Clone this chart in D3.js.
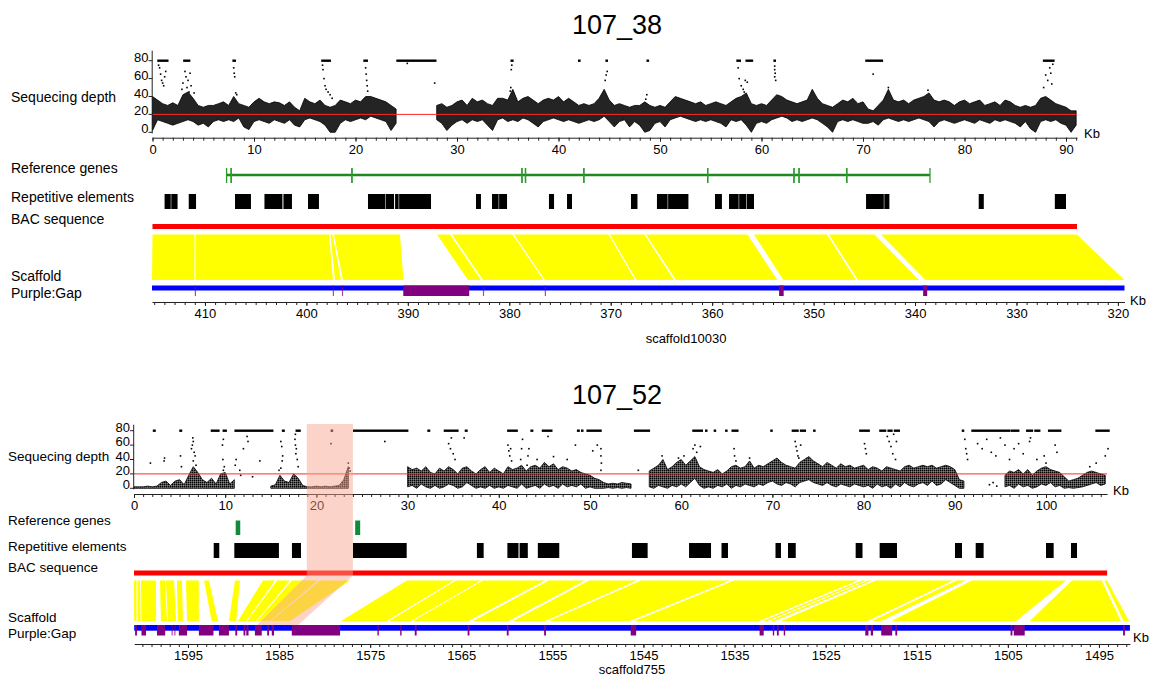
<!DOCTYPE html>
<html>
<head>
<meta charset="utf-8">
<script src="https://cdn.jsdelivr.net/npm/d3@7"></script>
<style>
body { margin: 0; background: #fff; }
text { font-family: "Liberation Sans", Arial, sans-serif; fill: #000; }
.tick text { font-family: "Liberation Sans", Arial, sans-serif; font-size: 13px; }
.domain, .tick line { stroke: #222; }
</style>
</head>
<body>
<svg id="chart" width="1158" height="677"></svg>
<script>
// ---------- shared
var depthStep = 0.5
var depthTicks = [0, 20, 40, 60, 80]
var rowLabels = ["Sequecing depth", "Reference genes", "Repetitive elements", "BAC sequence", "Scaffold", "Purple:Gap"]

// ---------- 107_38
var bacLen38 = 91.08
var scafRange38 = [415.22, 319.35]
var bacTicks38 = [0, 10, 20, 30, 40, 50, 60, 70, 80, 90]
var scafTicks38 = [410, 400, 390, 380, 370, 360, 350, 340, 330, 320]
var lo38 = [2,14,12,10,8,10,12,14,12,8, 10,6,12,14,12,14,12,16,6,3, 12,14,12,10,14,12,10,14,8,6,
  14,16,14,12,8,0,0,10,14,12, 14,16,14,18,16,14,12,2,10,null, null,null,null,null,null,null,14,10,2,8,
  12,14,10,14,12,14,8,2,14,16, 12,14,12,16,14,10,6,12,14,16, 14,12,14,12,10,12,14,12,14,18,
  12,6,12,14,6,12,8,0,2,10, 12,6,14,16,18,16,14,12,14,12, 14,12,10,6,14,12,14,8,0,10,
  12,10,14,16,18,16,12,14,12,14, 16,14,10,6,0,12,14,12,14,12, 10,10,12,8,14,16,14,12,14,12,
  14,16,14,12,6,12,14,12,10,12, 14,12,10,14,12,10,14,12,14,12, 10,6,12,4,0,12,14,12,14,10, 8,0,8]
var hi38 = [40,36,32,30,33,30,42,45,38,30, 28,30,30,32,34,30,40,32,30,28, 34,38,34,32,34,33,30,34,28,24,
  38,34,32,36,30,28,30,36,34,32, 36,34,40,40,38,36,34,30,26,null, null,null,null,null,null,null,30,32,28,30,
  34,36,30,38,34,36,32,30,38,38, 36,48,34,38,40,36,32,36,38,36, 40,34,38,34,30,32,30,32,38,48,
  36,30,32,30,28,30,30,34,30,28, 30,28,34,40,38,36,34,32,34,30, 32,34,32,30,34,38,40,44,32,30,
  32,30,36,42,40,36,34,32,34,36, 48,38,32,30,28,32,36,34,38,32, 34,26,24,30,36,48,36,34,36,32,
  36,38,40,44,36,34,36,34,30,34, 36,32,34,36,30,32,34,30,36,34, 30,28,30,28,30,38,40,36,32,30, 28,24,24]
// depth >= 80 drawn on the top line
var sat38 = [[0.55,1.5],[3.1,3.65],[7.95,8.15],[16.7,17.5],[20.85,21.15],[24.1,27.9],[35.35,35.5],
  [42.0,42.1],[44.7,44.8],[48.75,48.85],[57.6,57.9],[58.5,59.1],[61.25,61.35],[70.3,71.9],[87.8,88.8]]
var spikes38 = [[0.6,75],[0.7,72],[0.8,65],[0.9,58],[1.0,55],[1.1,52],[1.2,62],[1.3,68],
  [2.9,48],[3.0,55],[3.2,68],[3.3,62],[3.4,50],[3.5,58],[3.6,45],[3.7,66],[3.8,52],[4.1,44],
  [8.0,72],[8.05,66],[8.1,62],[8.2,44],[8.3,42],
  [16.75,75],[16.8,70],[16.9,60],[17.0,52],[17.1,48],[17.3,45],[17.5,42],[17.7,38],
  [21.0,72],[21.05,65],[21.1,58],[21.15,52],[21.2,46],[25.1,77],[27.8,55],
  [35.25,46],[35.3,50],[35.35,70],[35.4,75],[44.6,58],[44.7,64],[44.8,68],[48.6,37],[48.7,42],
  [57.7,72],[57.8,60],[58.0,52],[58.2,48],[58.3,45],[58.4,58],[58.6,56],
  [61.3,74],[61.3,70],[61.35,66],[61.3,62],[61.4,58],[71.0,65],[72.5,50],[76.4,47],
  [87.8,50],[88.0,64],[88.2,58],[88.4,72],[88.5,66],[88.6,54],[88.7,76]]
var genes38 = [[7.3,7.75],[7.75,19.65],[19.65,36.4],[36.4,36.75],[36.75,42.5],[42.5,54.7],
  [54.7,63.2],[63.2,63.7],[63.7,68.4],[68.4,76.6]]
var rep38 = [[1.19,1.8],[1.85,2.47],[3.57,4.29],[8.13,9.7],[11.03,12.8],[12.9,13.74],[15.32,16.4],
  [21.23,22.95],[23.0,23.8],[23.9,24.25],[24.3,27.44],[31.87,32.36],[33.45,34.1],[34.15,34.93],
  [39.06,39.56],[40.84,41.33],[47.14,47.78],[49.7,50.75],[50.8,52.8],[55.42,56.1],[56.8,57.75],
  [57.8,58.5],[58.55,59.26],[70.3,72.05],[72.1,72.6],[81.4,81.9],[88.9,90.0]]
// [bacStart, bacEnd, scafStart, scafEnd]
var syn38 = [[0,4.14,415.22,411.04],[4.24,17.39,410.94,397.38],[17.54,17.73,397.18,396.59],
  [17.88,24.38,396.39,390.43],[28.03,29.31,384.07,382.79],[29.51,35.47,382.59,376.63],
  [35.62,44.93,376.48,367.61],[45.07,48.47,367.46,363.77],[48.62,58.62,363.57,353.56],
  [59.26,66.45,352.97,345.82],[66.65,71.13,345.62,339.61],[71.77,91.08,338.97,319.35]]
var gaps38 = [[390.45,383.95],[353.4,352.95],[339.2,338.8],[411.0,410.95],[397.4,397.35],
  [396.5,396.45],[382.6,382.55],[376.5,376.45]]

// ---------- 107_52
var bacLen52 = 106.7
var scafRange52 = [1600.9, 1491.6]
var bacTicks52 = [0, 10, 20, 30, 40, 50, 60, 70, 80, 90, 100]
var scafTicks52 = [1595, 1585, 1575, 1565, 1555, 1545, 1535, 1525, 1515, 1505, 1495]
var lo52 = [0,0,0,0,0,0,0,0,0,0, 0,0,0,0,0,0,0,0,0,0, 0,0,0,null,null,null,null,null,null,null,
  0,0,0,0,0,0,0,0,0,0, 0,0,0,0,0,0,0,0,null,null, null,null,null,null,null,null,null,null,null,null,
  2,4,0,6,2,0,4,0,2,6, 4,0,2,8,4,0,2,0,4,0, 2,0,4,2,0,6,0,2,4,0, 6,2,4,0,6,2,4,2,6,0,
  2,0,0,0,1,0,1,0,1,0, null,null,null,2,0,4,2,0,4,2, 6,2,8,14,4,0,2,0,4,2, 6,0,4,2,6,4,2,6,4,8,
  10,6,4,8,6,2,8,10,12,8, 6,4,8,4,2,6,4,2,6,4, 2,4,0,6,2,4,0,6,2,8, 4,2,6,8,4,10,4,6,12,8,
  4,0,0,null,null,null,null,null,null,null, null,2,4,0,6,2,4,0,2,6, 4,8,2,4,0,1,0,1,2,4, 6,8,4,6]
var hi52 = [2,2,2,3,2,3,8,10,4,10, 12,5,18,30,22,12,8,14,6,20, 22,6,12,null,null,null,null,null,null,null,
  3,5,18,10,8,20,14,4,2,2, 3,2,3,2,3,4,12,30,null,null, null,null,null,null,null,null,null,null,null,null,
  30,26,28,24,30,22,20,28,24,30, 26,20,28,30,24,20,26,30,22,28, 24,20,30,26,28,32,24,30,32,28,
  36,30,34,26,30,28,24,26,22,20, 18,14,12,8,6,7,6,8,7,6, null,null,null,24,28,32,40,26,30,36,
  40,32,38,44,30,26,24,22,26,20, 24,30,32,28,30,38,28,32,30,34, 38,42,36,32,30,28,36,40,44,38,
  34,30,36,32,28,34,30,32,28,30, 32,26,30,28,24,30,28,26,24,30, 32,28,30,32,30,32,28,30,32,30,
  26,12,10,null,null,null,null,null,null,null, null,18,24,22,26,20,26,18,24,28, 30,26,24,22,16,10,12,14,18,22, 24,22,20,18]
var sat52 = [[2.15,2.3],[5.05,5.2],[8.5,9.3],[9.8,10.1],[11.1,15.2],[16.3,16.45],[17.8,18.2],[21.65,21.75],
  [24.1,30.0],[32.25,32.4],[34.05,35.5],[36.35,36.5],[41.0,42.0],[43.55,43.7],[44.8,45.8],[48.65,48.8],
  [49.1,49.2],[49.7,51.2],[54.9,56.5],[61.3,62.3],[62.7,62.8],[63.65,63.75],[64.9,65.0],[65.6,66.2],
  [69.85,69.95],[72.2,72.8],[73.1,73.6],[74.55,74.65],[79.6,80.6],[81.8,82.4],[82.7,83.1],[83.4,83.9],
  [90.85,90.95],[91.9,96.0],[96.2,97.0],[97.9,98.5],[98.8,99.3],[100.3,101.6],[105.5,106.9]]
var spikes52 = [[1.8,35],[3.3,38],[3.35,42],[5.1,45],[5.2,30],[6.3,55],[6.4,60],[6.5,65],[6.45,70],[6.6,50],
  [6.7,45],[6.5,38],[6.8,32],[9.7,60],[9.8,68],[9.75,40],[9.9,30],[9.8,25],[11.1,32],[11.2,40],[11.6,25],
  [11.7,18],[12.0,55],[12.4,72],[12.5,65],[13.8,38],[13.0,16],[16.1,65],[16.2,58],[16.3,45],[16.25,38],
  [16.1,28],[17.7,75],[17.65,68],[17.7,60],[17.8,55],[17.75,48],[17.9,40],[18.0,30],[15.9,25],[21.6,62],
  [23.5,35],[23.6,28],[23.7,24],[27.5,65],[34.5,62],[34.7,55],[34.8,70],[35.0,48],[35.2,40],[36.2,70],
  [41.0,60],[41.1,52],[41.2,45],[41.4,38],[41.3,55],[42.4,40],[42.5,55],[42.6,68],[43.1,32],[43.2,45],
  [43.3,55],[44.2,40],[45.4,72],[46.0,44],[47.5,40],[48.4,60],[50.3,52],[50.8,60],[51.2,55],[51.2,45],
  [51.25,35],[51.2,25],[55.3,25],[57.9,45],[59.7,42],[60.3,45],[61.3,55],[61.5,60],[61.7,50],[62.1,58],
  [65.8,55],[65.85,45],[66.0,38],[67.5,42],[72.5,65],[72.6,58],[72.7,52],[72.8,45],[72.9,42],[73.1,60],
  [80.1,62],[80.2,55],[80.3,48],[82.6,72],[82.8,65],[83.0,58],[83.2,48],[83.3,75],[83.5,40],[83.6,65],
  [91.1,68],[91.2,55],[91.3,48],[91.4,40],[92.5,62],[93.0,55],[93.5,68],[94.0,50],[94.5,45],[95.0,70],
  [95.5,60],[96.0,40],[96.5,55],[97.0,62],[97.5,48],[98.2,65],[98.3,70],[99.0,40],[99.8,45],[100.0,35],
  [101.0,60],[101.2,50],[104.8,30],[105.5,35],[106.5,45],[106.8,55],[93.8,5],[94.2,8],[94.6,3]]
var genes52 = [[11.15,11.65],[24.25,24.8]]
var rep52 = [[8.74,9.35],[11.0,15.89],[17.32,18.31],[24.01,29.9],[37.6,38.34],[40.94,42.16],[42.28,43.18],
  [44.28,46.63],[54.6,56.32],[60.86,63.27],[64.42,65.13],[70.34,70.94],[71.71,72.56],[79.13,79.88],
  [81.76,83.66],[90.02,90.79],[92.29,93.16],[100.0,100.84],[102.74,103.4]]
var syn52 = [[0,0.27,1600.9,1600.65],[0.38,0.66,1600.5,1600.2],[0.77,2.41,1600.1,1598.5],
  [2.85,3.4,1597.96,1597.3],[3.5,4.39,1597.2,1596.3],[4.71,5.26,1596.1,1595.55],[5.7,7.1,1595.1,1593.8],
  [7.68,8.22,1592.4,1591.7],[11.07,11.62,1590.5,1589.7],[14.14,15.46,1589.5,1588.6],
  [15.68,17.1,1588.5,1587.5],[17.32,20.18,1587.4,1586.0],[20.4,23.7,1585.9,1583.8],
  [29.93,35.09,1578.2,1573.2],[35.3,38.05,1572.9,1570.5],[38.27,45.07,1570.3,1564.2],
  [45.5,49.45,1563.7,1559.8],[49.9,55.15,1559.3,1555.8],[55.6,65.35,1555.4,1546.5],
  [65.8,79.4,1546.0,1532.3],[79.8,80.26,1531.9,1531.4],[80.5,80.9,1531.1,1530.6],
  [81.36,89.8,1529.9,1520.4],[90.2,91.2,1519.9,1518.9],[91.9,102.2,1517.8,1504.1],
  [102.85,106.1,1502.6,1492.6],[106.4,106.7,1492.3,1491.7]]
var gaps52 = [[1600.8,1600.6],[1600.1,1599.6],[1598.4,1597.5],[1596.8,1596.7],[1596.5,1596.4],
  [1596.0,1595.1],[1593.8,1592.2],[1591.6,1590.5],[1589.8,1589.6],[1588.9,1588.7],[1588.6,1588.35],
  [1587.65,1586.9],[1586.3,1586.1],[1585.8,1585.55],[1583.6,1578.3],[1574.2,1574.05],[1571.7,1571.55],
  [1570.1,1569.9],[1564.3,1564.1],[1560.0,1559.8],[1555.9,1555.7],[1546.4,1545.8],[1532.25,1531.8],
  [1530.8,1530.65],[1530.35,1530.15],[1529.6,1529.45],[1520.65,1520.3],[1520.05,1519.8],
  [1518.9,1517.7],[1517.35,1517.15],[1504.7,1504.5],[1504.35,1503.15],[1492.35,1492.15]]
var hlBac52 = [18.95, 24.0]
var hlScaf52 = [1587.4, 1582.9]


var svg = d3.select("#chart")

// stipple fill so the sparse depth cloud reads like dots
var defs = svg.append("defs")
defs.append("pattern")
    .attr("id", "dots")
    .attr("width", 2).attr("height", 2)
    .attr("patternUnits", "userSpaceOnUse")
  .append("rect")
    .attr("width", 1.7).attr("height", 1.7)
    .attr("fill", "#000")

function drawPanel(p) {

	var g = svg.append("g")

	var bx = d3.scaleLinear()
		.domain([0, p.bacLen])
		.range([p.x0, p.x0 + p.bacLen * p.pxKb])

	var sx = d3.scaleLinear()
		.domain(p.scafRange)
		.range([p.sx0, p.sx0 + (p.scafRange[0] - p.scafRange[1]) * p.pxKb2])

	var y = d3.scaleLinear()
		.domain([0, 80])
		.range([p.y0, p.y80])

	g.append("text")
		.attr("x", 617)
		.attr("y", p.titleY)
		.attr("text-anchor", "middle")
		.style("font-size", "27px")
		.text(p.title)

	g.selectAll(".rowLabel")
		.data(rowLabels)
		.enter().append("text")
		.attr("class", "rowLabel")
		.attr("x", p.labelX)
		.attr("y", (d, i) => p.labelYs[i])
		.style("font-size", p.fs + "px")
		.text(d => d)

	// sequencing depth
	var bins = p.lo.map((v, i) => ({ kb: i * depthStep, lo: v, hi: p.hi[i] }))

	var area = d3.area()
		.defined(d => d.lo != null)
		.x(d => bx(Math.min(d.kb, p.bacLen)))
		.y0(d => y(d.lo))
		.y1(d => y(d.hi))

	g.append("path")
		.datum(bins)
		.attr("d", area)
		.attr("fill", p.cloudFill)
		.attr("fill-opacity", p.cloudOpacity)
		.attr("stroke", "#000")
		.attr("stroke-width", 0.8)
		.attr("stroke-opacity", p.cloudStroke)

	g.selectAll(".sat")
		.data(p.sat)
		.enter().append("rect")
		.attr("x", d => bx(d[0]) - 0.8)
		.attr("width", d => bx(d[1]) - bx(d[0]) + 1.6)
		.attr("y", y(80) - 1.2)
		.attr("height", 2.4)
		.attr("fill", "#000")

	g.selectAll(".spike")
		.data(p.spikes)
		.enter().append("rect")
		.attr("x", d => bx(d[0]) - 0.8)
		.attr("y", d => y(d[1]) - 0.8)
		.attr("width", 1.6)
		.attr("height", 1.6)
		.attr("fill", "#000")

	g.append("line")
		.attr("x1", bx(0)).attr("x2", bx(p.bacLen))
		.attr("y1", y(20)).attr("y2", y(20))
		.attr("stroke", "#ff2a2a")
		.attr("stroke-width", 1)

	// depth y axis
	g.append("line")
		.attr("x1", p.x0 - 0.3).attr("x2", p.x0 - 0.3)
		.attr("y1", y(80) - p.yAxisExtra).attr("y2", y(0) + 1)
		.attr("stroke", "#222")

	var yt = g.selectAll(".ytick")
		.data(depthTicks)
		.enter().append("g")

	yt.append("line")
		.attr("x1", p.x0 - 4).attr("x2", p.x0)
		.attr("y1", d => y(d)).attr("y2", d => y(d))
		.attr("stroke", "#222")

	yt.append("text")
		.attr("x", p.x0 - 4)
		.attr("y", d => y(d) + 1)
		.attr("text-anchor", "end")
		.style("font-size", "13px")
		.text(d => d)

	// depth x axis
	var ax = g.append("g").attr("transform", "translate(0," + p.axisY + ")")
	ax.call(d3.axisBottom(bx).tickValues(d3.range(0, p.bacLen, 1)).tickSize(3).tickSizeOuter(0).tickFormat(""))
	ax.append("g")
		.call(d3.axisBottom(bx).tickValues(p.bacTicks).tickSize(4).tickSizeOuter(0).tickFormat(d3.format("d")))
		.call(a => a.select(".domain").remove())

	g.append("text")
		.attr("x", p.kbDepth[0]).attr("y", p.kbDepth[1])
		.style("font-size", "13px")
		.text("Kb")

	// reference genes
	if (p.geneStyle == "line") {
		g.selectAll(".gene")
			.data(p.genes)
			.enter().append("line")
			.attr("x1", d => bx(d[0])).attr("x2", d => bx(d[1]))
			.attr("y1", p.geneY[0] + 7).attr("y2", p.geneY[0] + 7)
			.attr("stroke", "#1f8a1f")
			.attr("stroke-width", 2.6)

		var bounds = []
		p.genes.forEach(d => { bounds.push(d[0]); bounds.push(d[1]) })
		g.selectAll(".geneTick")
			.data(bounds)
			.enter().append("line")
			.attr("x1", d => bx(d)).attr("x2", d => bx(d))
			.attr("y1", p.geneY[0]).attr("y2", p.geneY[1])
			.attr("stroke", "#2e9a2e")
			.attr("stroke-width", 1.3)
	}
	else {
		g.selectAll(".gene")
			.data(p.genes)
			.enter().append("rect")
			.attr("x", d => bx(d[0]))
			.attr("width", d => bx(d[1]) - bx(d[0]))
			.attr("y", p.geneY[0])
			.attr("height", p.geneY[1] - p.geneY[0])
			.attr("fill", "#13893a")
	}

	// repetitive elements
	g.selectAll(".rep")
		.data(p.rep)
		.enter().append("rect")
		.attr("x", d => bx(d[0]))
		.attr("width", d => bx(d[1]) - bx(d[0]))
		.attr("y", p.repY[0])
		.attr("height", p.repY[1] - p.repY[0])
		.attr("fill", "#000")

	// BAC bar
	g.append("rect")
		.attr("x", bx(0)).attr("width", bx(p.bacLen) - bx(0))
		.attr("y", p.bacY[0]).attr("height", p.bacY[1] - p.bacY[0])
		.attr("fill", "#ff0000")

	// synteny
	g.selectAll(".syn")
		.data(p.syn)
		.enter().append("polygon")
		.attr("points", d => [
			[bx(d[0]), p.synY[0]], [bx(d[1]), p.synY[0]],
			[sx(d[3]), p.synY[1]], [sx(d[2]), p.synY[1]]
		].join(" "))
		.attr("fill", "#ffff00")

	// scaffold
	g.append("rect")
		.attr("x", sx(p.scafRange[0])).attr("width", sx(p.scafRange[1]) - sx(p.scafRange[0]))
		.attr("y", p.scafY[0]).attr("height", p.scafY[1] - p.scafY[0])
		.attr("fill", "#0000ff")

	g.selectAll(".gap")
		.data(p.gaps)
		.enter().append("rect")
		.attr("x", d => Math.min(sx(d[0]), sx(d[1])))
		.attr("width", d => Math.max(Math.abs(sx(d[1]) - sx(d[0])), 1.2))
		.attr("y", p.scafY[0])
		.attr("height", p.gapBottom - p.scafY[0])
		.attr("fill", "#800080")
		.attr("opacity", d => Math.abs(sx(d[1]) - sx(d[0])) < 1 ? 0.7 : 1)

	var sax = g.append("g").attr("transform", "translate(0," + p.scafAxisY + ")")
	sax.call(d3.axisBottom(sx).tickValues(d3.range(Math.ceil(p.scafRange[1]), p.scafRange[0], 1)).tickSize(3).tickSizeOuter(0).tickFormat(""))
	sax.append("g")
		.call(d3.axisBottom(sx).tickValues(p.scafTicks).tickSize(4).tickSizeOuter(0).tickFormat(d3.format("d")))
		.call(a => a.select(".domain").remove())

	g.append("text")
		.attr("x", p.kbScaf[0]).attr("y", p.kbScaf[1])
		.style("font-size", "13px")
		.text("Kb")

	g.append("text")
		.attr("x", p.nameX).attr("y", p.nameY)
		.attr("text-anchor", "middle")
		.style("font-size", "13px")
		.text(p.scafName)

	// highlighted region
	if (p.hlBac) {
		g.append("polygon")
			.attr("points", [
				[bx(p.hlBac[0]), p.hlTop], [bx(p.hlBac[1]), p.hlTop],
				[bx(p.hlBac[1]), p.bacY[1]], [sx(p.hlScaf[1]), p.scafY[0]],
				[sx(p.hlScaf[0]), p.scafY[0]], [bx(p.hlBac[0]), p.bacY[1]]
			].join(" "))
			.attr("fill", "#f6a48d")
			.attr("opacity", 0.48)
	}
}

drawPanel({
	title: "107_38", titleY: 34,
	bacLen: bacLen38, scafRange: scafRange38, bacTicks: bacTicks38, scafTicks: scafTicks38,
	lo: lo38, hi: hi38, sat: sat38, spikes: spikes38, genes: genes38, geneStyle: "line",
	rep: rep38, syn: syn38, gaps: gaps38,
	x0: 152.5, pxKb: 10.15, sx0: 152, pxKb2: 10.144,
	y0: 132.3, y80: 60.7, yAxisExtra: 10, axisY: 137.7,
	geneY: [168, 183], repY: [194, 209], bacY: [224, 229], synY: [234.5, 280],
	scafY: [285.5, 290.5], gapBottom: 296, scafAxisY: 302,
	labelX: 11, labelYs: [102, 173, 202, 224, 281, 298], fs: 14,
	kbDepth: [1084, 138], kbScaf: [1130, 305],
	scafName: "scaffold10030", nameX: 686, nameY: 343,
	cloudFill: "#111", cloudOpacity: 0.92, cloudStroke: 1
})

drawPanel({
	title: "107_52", titleY: 404,
	bacLen: bacLen52, scafRange: scafRange52, bacTicks: bacTicks52, scafTicks: scafTicks52,
	lo: lo52, hi: hi52, sat: sat52, spikes: spikes52, genes: genes52, geneStyle: "box",
	rep: rep52, syn: syn52, gaps: gaps52,
	x0: 134, pxKb: 9.12, sx0: 134.2, pxKb2: 9.11,
	y0: 488.3, y80: 430.7, yAxisExtra: 6, axisY: 494,
	geneY: [520.5, 535], repY: [543, 558], bacY: [570.5, 575.5], synY: [580.5, 621],
	scafY: [625, 630.7], gapBottom: 635.5, scafAxisY: 644,
	labelX: 8, labelYs: [461, 525, 551, 572, 622, 638], fs: 13.5,
	kbDepth: [1113, 495], kbScaf: [1133, 642],
	scafName: "scaffold755", nameX: 632, nameY: 674,
	cloudFill: "url(#dots)", cloudOpacity: 1, cloudStroke: 1,
	hlBac: hlBac52, hlScaf: hlScaf52, hlTop: 424
})
</script>
</body>
</html>
